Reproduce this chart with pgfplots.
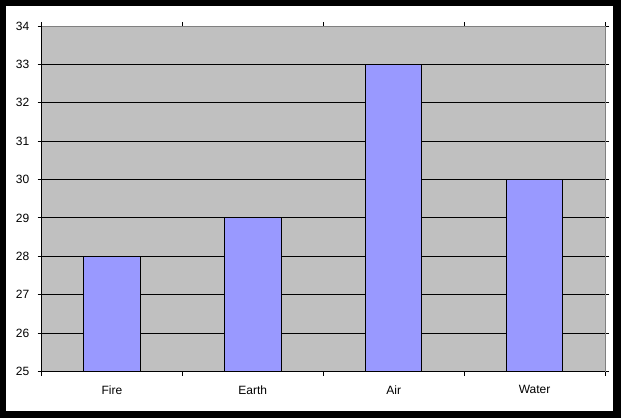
\documentclass[border=0pt]{standalone}
\usepackage{fontspec}
\setmainfont{Liberation Sans}
\usepackage{pgfplots}
\pgfplotsset{compat=1.18}
\definecolor{bggray}{HTML}{C0C0C0}
\definecolor{edgegray}{HTML}{808080}
\definecolor{barblue}{HTML}{9999FF}
\begin{document}
\fontsize{12bp}{14bp}\selectfont
\begin{tikzpicture}[x=1bp,y=1bp]
\fill[black] (0,0) rectangle (621,418);
\fill[white] (6,7) rectangle (613,412);
\begin{axis}[
  name=ax,
  at={(41.5bp,46.5bp)}, anchor=south west,
  width=563.5bp, height=345.5bp, scale only axis,
  xmin=-0.5, xmax=3.5, ymin=25, ymax=34,
  ytick={25,26,...,34},
  xtick={-0.5,0.5,1.5,2.5,3.5}, xticklabels={},
  extra x ticks={0,1,2,3},
  extra x tick labels={Fire,Earth,Air,Water},
  extra x tick style={major tick length=0pt, xticklabel style={yshift=-10bp}},
  tick align=outside, major tick length=4bp,
  tick style={black, line width=1bp},
  ymajorgrids, grid style={black, line width=1bp},
  axis background/.style={fill=bggray},
  axis line style={draw=none},
  yticklabel style={xshift=-4bp},
  tick label style={font=\fontsize{12bp}{14bp}\selectfont},
  /pgf/number format/assume math mode=true,
]
\addplot[ybar, bar width=56.4bp, fill=barblue, draw=black, line width=1bp] coordinates {(0,28) (1,29) (2,33) (3,30)};
\end{axis}
\draw[edgegray, line width=1bp] (ax.north west) -- (ax.north east) -- (ax.south east);
\draw[black, line width=1bp] (ax.north west) -- (ax.south west) -- (ax.south east);
\end{tikzpicture}
\end{document}
